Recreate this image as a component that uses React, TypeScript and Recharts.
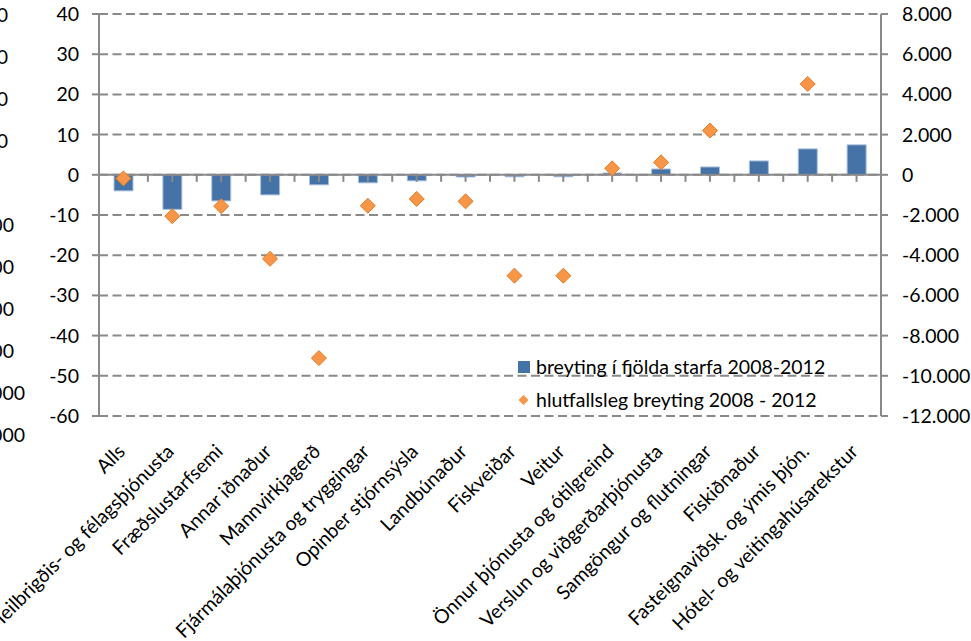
import {
  Bar,
  CartesianGrid,
  ComposedChart,
  Legend,
  ReferenceLine,
  Scatter,
  XAxis,
  YAxis,
} from 'recharts'

const FONT = 'Lato, "Open Sans", sans-serif'
const FS = 19.5

const categories = [
  'Alls',
  'Heilbrigðis- og félagsþjónusta',
  'Fræðslustarfsemi',
  'Annar iðnaður',
  'Mannvirkjagerð',
  'Fjármálaþjónusta og tryggingar',
  'Opinber stjórnsýsla',
  'Landbúnaður',
  'Fiskveiðar',
  'Veitur',
  'Önnur þjónusta og ótilgreind',
  'Verslun og viðgerðarþjónusta',
  'Samgöngur og flutningar',
  'Fiskiðnaður',
  'Fasteignaviðsk. og ýmis þjón.',
  'Hótel- og veitingahúsarekstur',
]

// breyting í fjölda starfa (right axis)
const jobChange = [-800, -1720, -1300, -1000, -500, -400, -300, -110, -100, -100, 90, 290, 390, 690, 1290, 1490]

// hlutfallsleg breyting, % (left axis)
const pctChange: (number | null)[] = [-0.9, -10.3, -7.8, -20.9, -45.6, -7.7, -6.0, -6.6, -25.1, -25.1, 1.6, 3.1, 11.0, null, 22.6, null]

const leftTicks = [-60, -50, -40, -30, -20, -10, 0, 10, 20, 30, 40]
const rightTicks = [-12000, -10000, -8000, -6000, -4000, -2000, 0, 2000, 4000, 6000, 8000]

// labels of a neighbouring axis, cut by the left edge of the picture
const ghostLabels = ['40', '30', '20', '10', '', '-100', '-200', '-300', '-400', '-1000', '-1000']
const ghostRight = [8, 8, 8, 8, 8, 14, 14, 14, 14, 25, 25]

const seriesNames = ['breyting í fjölda starfa 2008-2012', 'hlutfallsleg breyting 2008 - 2012']
const title = 'Breyting í fjölda og hlutfalli starfa eftir atvinnugreinum 2008-2012'

const data = categories.map((name, i) => ({ name, jobs: jobChange[i], pct: pctChange[i] }))

const AXIS = '#898989'

const fmtThousands = (v: number) => {
  const s = Math.abs(v).toString().replace(/\B(?=(\d{3})+(?!\d))/g, '.')
  return (v < 0 ? '-' : '') + s
}

const Diamond = (props: any) => {
  const { cx, cy, payload } = props
  if (!payload || payload.pct == null || !Number.isFinite(cx) || !Number.isFinite(cy)) return <g />
  const r = 7.5
  return (
    <polygon
      points={`${cx},${cy - r} ${cx + r},${cy} ${cx},${cy + r} ${cx - r},${cy}`}
      fill="#F79646"
      stroke="#E27C28"
      strokeWidth={1}
    />
  )
}

const CategoryTick = (props: any) => {
  const { x, y, payload } = props
  const tx = x - 7
  const ty = y + 2
  return (
    <text
      x={tx}
      y={ty}
      dy="0.71em"
      transform={`rotate(-45, ${tx}, ${ty})`}
      textAnchor="end"
      fill="#000"
      fontSize={FS}
      fontFamily={FONT}
    >
      {payload.value}
    </text>
  )
}

const renderLegend = (props: any) => {
  const { payload } = props
  return (
    <div style={{ fontFamily: FONT, fontSize: FS, color: '#000' }}>
      {(payload || []).map((entry: any) => (
        <div key={entry.value} style={{ display: 'flex', alignItems: 'center', height: 33 }}>
          <svg width={18} height={14} style={{ flex: 'none' }}>
            {entry.type === 'square' ? (
              <rect x={0} y={1} width={12} height={12} fill={entry.color} />
            ) : (
              <polygon points="5.5,2 10.5,7 5.5,12 0.5,7" fill={entry.color} />
            )}
          </svg>
          <span style={{ whiteSpace: 'nowrap' }}>{entry.value}</span>
        </div>
      ))}
    </div>
  )
}

export default function App() {
  return (
    <div
      style={{
        position: 'absolute',
        left: 0,
        top: 0,
        width: 971,
        height: 641,
        overflow: 'hidden',
        background: '#fff',
        fontFamily: FONT,
      }}
    >
      <div
        style={{
          position: 'absolute',
          left: 163,
          top: -25,
          lineHeight: '21px',
          fontSize: 21,
          fontWeight: 700,
          color: '#1F497D',
          whiteSpace: 'nowrap',
        }}
      >
        {title}
      </div>
      {ghostLabels.map((lab, i) => (
        <div
          key={i}
          style={{
            position: 'absolute',
            right: 971 - ghostRight[i],
            top: 15 + i * 42 - 11,
            fontSize: FS,
            lineHeight: '22px',
            color: '#000',
            whiteSpace: 'nowrap',
          }}
        >
          {lab}
        </div>
      ))}
      <ComposedChart
        width={971}
        height={641}
        data={data}
        margin={{ top: 14, right: 10, bottom: 0, left: 20 }}
        barSize={19}
      >
        <CartesianGrid
          yAxisId="left"
          vertical={false}
          stroke={AXIS}
          strokeWidth={2}
          strokeDasharray="9 4.5"
        />
        <XAxis
          dataKey="name"
          interval={0}
          height={225}
          axisLine={false}
          tickLine={false}
          tickSize={0}
          tickMargin={25}
          tick={<CategoryTick />}
        />
        <YAxis
          yAxisId="left"
          domain={[-60, 40]}
          ticks={leftTicks}
          interval={0}
          width={79}
          tickSize={7}
          tickMargin={13}
          axisLine={{ stroke: AXIS, strokeWidth: 2 }}
          tickLine={{ stroke: AXIS, strokeWidth: 2 }}
          tick={{ fill: '#000', fontSize: FS, fontFamily: FONT }}
        />
        <YAxis
          yAxisId="right"
          orientation="right"
          domain={[-12000, 8000]}
          ticks={rightTicks}
          interval={0}
          width={80}
          tickSize={7}
          tickMargin={14}
          tickFormatter={fmtThousands}
          axisLine={{ stroke: AXIS, strokeWidth: 2 }}
          tickLine={{ stroke: AXIS, strokeWidth: 2 }}
          tick={{ fill: '#000', fontSize: FS, fontFamily: FONT, textAnchor: 'start' }}
        />
        <Bar
          yAxisId="right"
          dataKey="jobs"
          name={seriesNames[0]}
          fill="#4572A7"
          stroke="#A9C0DD"
          strokeWidth={1}
          legendType="square"
          isAnimationActive={false}
        />
        <ReferenceLine yAxisId="left" y={0} stroke={AXIS} strokeWidth={2} />
        {categories.map((c) => (
          <ReferenceLine
            key={'m' + c}
            yAxisId="left"
            position="middle"
            segment={[
              { x: c, y: 0 },
              { x: c, y: -1.75 },
            ]}
            stroke={AXIS}
            strokeWidth={2}
          />
        ))}
        {categories.slice(1).map((c) => (
          <ReferenceLine
            key={'s' + c}
            yAxisId="left"
            position="start"
            segment={[
              { x: c, y: 0 },
              { x: c, y: -1.75 },
            ]}
            stroke={AXIS}
            strokeWidth={2}
          />
        ))}
        <Scatter
          yAxisId="left"
          dataKey="pct"
          name={seriesNames[1]}
          fill="#F79646"
          legendType="diamond"
          shape={Diamond}
          isAnimationActive={false}
        />
        <Legend
          layout="vertical"
          align="center"
          verticalAlign="middle"
          content={renderLegend}
          wrapperStyle={{ left: 518, top: 350, width: 'auto' }}
        />
      </ComposedChart>
    </div>
  )
}
